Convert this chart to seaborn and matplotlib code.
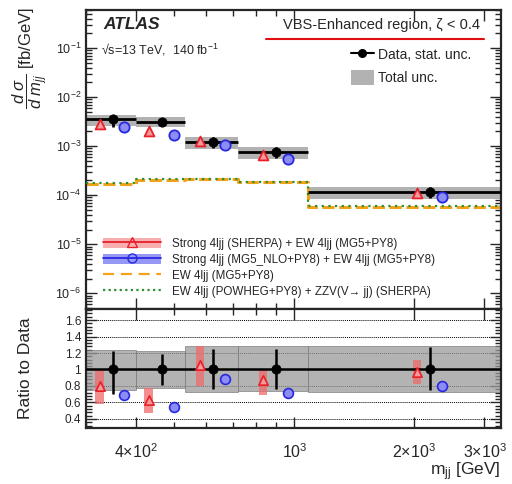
import numpy as np
import pandas as pd
import matplotlib
matplotlib.use("Agg")
import matplotlib.pyplot as plt
from matplotlib.patches import Patch
from matplotlib.lines import Line2D
from matplotlib.ticker import FixedLocator, FixedFormatter, NullFormatter, LogLocator, MultipleLocator, FuncFormatter
import seaborn as sns

# m_jj binning [GeV]
bin_edges = [300, 400, 530, 720, 1080, 3300]
bin_centres = [350, 465, 625, 900, 2190]

# measured d sigma / d m_jj [fb/GeV]
data_xsec = [3.51e-3, 3.19e-3, 1.21e-3, 7.55e-4, 1.15e-4]
stat_up = [0.22, 0.19, 0.25, 0.25, 0.27]
stat_down = [0.30, 0.19, 0.24, 0.24, 0.25]
total_hi = [1.24, 1.23, 1.28, 1.28, 1.29]
total_lo = [0.75, 0.77, 0.73, 0.74, 0.73]

# predictions relative to data
sherpa_ratio = [0.80, 0.63, 1.06, 0.87, 0.97]
sherpa_hi = [1.01, 0.78, 1.28, 1.01, 1.12]
sherpa_lo = [0.58, 0.47, 0.80, 0.69, 0.82]
mg5nlo_ratio = [0.69, 0.54, 0.89, 0.72, 0.80]

# EW-only predictions [fb/GeV]
ew_mg5 = [1.73e-4, 2.09e-4, 2.16e-4, 1.84e-4, 5.87e-5]
ew_powheg_zzv = [1.74e-4, 2.10e-4, 2.17e-4, 1.85e-4, 5.90e-5]

GRAY = "#b2b2b2"
RED = "#e8202a"
RED_FILL = "#f59a9a"
BLUE = "#2828e0"
BLUE_FILL = "#8c8cf5"
ORANGE = "#f2a31b"
GREEN = "#2f8f2f"

sns.set_style("ticks")
plt.rcParams["font.family"] = ["Liberation Sans", "DejaVu Sans"]
plt.rcParams["mathtext.fontset"] = "custom"
plt.rcParams["mathtext.rm"] = "Liberation Sans"
plt.rcParams["mathtext.it"] = "Liberation Sans:italic"
plt.rcParams["mathtext.bf"] = "Liberation Sans:bold"

data = np.array(data_xsec)
centres = np.array(bin_centres, dtype=float)
edges = np.array(bin_edges, dtype=float)
lo_edges, hi_edges = edges[:-1], edges[1:]
sherpa = np.array(sherpa_ratio)
mg5nlo = np.array(mg5nlo_ratio)
x_sherpa = centres * 0.927
x_mg5 = centres * 1.07

fig = plt.figure(figsize=(5.12, 4.84), dpi=100)
ax1 = fig.add_axes([0.168, 0.3626, 0.8105, 0.6167])
ax2 = fig.add_axes([0.168, 0.1157, 0.8105, 0.2469], sharex=ax1)

# ---------------- top panel ----------------
ax1.bar(lo_edges, data * (np.array(total_hi) - np.array(total_lo)), width=hi_edges - lo_edges,
        bottom=data * np.array(total_lo), align="edge", color=GRAY, lw=0, zorder=1)

ew = pd.DataFrame({"m": edges, "mg5": ew_mg5 + [ew_mg5[-1]], "pwg": ew_powheg_zzv + [ew_powheg_zzv[-1]]})
sns.lineplot(data=ew, x="m", y="mg5", drawstyle="steps-post", color=ORANGE, lw=2.2,
             linestyle=(0, (4, 1.5)), estimator=None, sort=False, ax=ax1, zorder=2)
sns.lineplot(data=ew, x="m", y="pwg", drawstyle="steps-post", color=GREEN, lw=1.6,
             linestyle=(0, (1, 2)), estimator=None, sort=False, ax=ax1, zorder=3)

ax1.errorbar(centres, data, xerr=[centres - lo_edges, hi_edges - centres],
             yerr=[data * np.array(stat_down), data * np.array(stat_up)],
             fmt="none", ecolor="k", elinewidth=2.0, capsize=0, zorder=4)
sns.scatterplot(x=centres, y=data, color="k", s=45, edgecolor="k", ax=ax1, zorder=6)
sns.scatterplot(x=x_sherpa, y=data * sherpa, marker="^", color=RED_FILL, edgecolor=RED,
                linewidth=1.3, s=50, ax=ax1, zorder=5)
sns.scatterplot(x=x_mg5, y=data * mg5nlo, marker="o", color=BLUE_FILL, edgecolor=BLUE,
                linewidth=1.3, s=55, ax=ax1, zorder=5)

ax1.set_xscale("log")
ax1.set_yscale("log")
ax1.set_xlim(300, 3300)
ax1.set_ylim(4.9e-7, 0.6)
ax1.set_xlabel("")
ax1.set_ylabel(r"$\dfrac{d\ \sigma}{d\ m_{jj}}$ [fb/GeV]", fontsize=12, ha="center", va="center")
ax1.yaxis.set_label_coords(-0.135, 0.84)
ax1.yaxis.set_major_locator(LogLocator(base=10, numticks=12))
ax1.yaxis.set_minor_locator(LogLocator(base=10, subs=np.arange(2, 10), numticks=12))
ax1.yaxis.set_minor_formatter(NullFormatter())
ax1.tick_params(axis="y", labelsize=9)
plt.setp(ax1.get_xticklabels(), visible=False)

ax1.text(0.041, 0.95, "ATLAS", transform=ax1.transAxes, fontsize=12.5, fontweight="bold",
         fontstyle="italic", ha="left", va="center")
ax1.text(0.036, 0.866, "√s=13 TeV,  140 fb$^{-1}$", transform=ax1.transAxes,
         fontsize=9, ha="left", va="center")
ax1.text(0.949, 0.95, "VBS-Enhanced region, ζ < 0.4", transform=ax1.transAxes,
         fontsize=10.5, ha="right", va="center")
ax1.plot([0.434, 0.958], [0.902, 0.902], transform=ax1.transAxes, color="#e01010", lw=1.5)

top_handles = [Line2D([], [], color="k", marker="o", ms=5.5, lw=1.5),
               Patch(facecolor=GRAY, edgecolor="none")]
leg1 = ax1.legend(top_handles, ["Data, stat. unc.", "Total unc."], loc="upper left",
                  bbox_to_anchor=(0.6386, 0.876), frameon=False, fontsize=10,
                  handlelength=1.65, handleheight=1.3, handletextpad=0.3,
                  labelspacing=0.55, borderpad=0, borderaxespad=0)
ax1.add_artist(leg1)

bot_handles = [
    (Patch(facecolor=RED_FILL, edgecolor="none", alpha=0.8),
     Line2D([], [], color=RED, lw=1.3, marker="^", ms=6.5, mfc="none", mec=RED)),
    (Patch(facecolor=BLUE_FILL, edgecolor="none", alpha=0.9),
     Line2D([], [], color=BLUE, lw=1.3, marker="o", ms=6.5, mfc="none", mec=BLUE)),
    Line2D([], [], color=ORANGE, lw=1.6, linestyle=(0, (5, 3))),
    Line2D([], [], color=GREEN, lw=1.6, linestyle=(0, (1, 1.5))),
]
bot_labels = [
    "Strong 4ljj (SHERPA) + EW 4ljj (MG5+PY8)",
    "Strong 4ljj (MG5_NLO+PY8) + EW 4ljj (MG5+PY8)",
    "EW 4ljj (MG5+PY8)",
    "EW 4ljj (POWHEG+PY8) + ZZV(V→ jj) (SHERPA)",
]
ax1.legend(bot_handles, bot_labels, loc="lower left", bbox_to_anchor=(0.041, 0.035),
           frameon=False, fontsize=8.4, handlelength=5.0, handleheight=1.0,
           handletextpad=0.9, labelspacing=0.33, borderpad=0, borderaxespad=0)

# ---------------- ratio panel ----------------
for g in [0.4, 0.6, 0.8, 1.2, 1.4, 1.6]:
    ax2.axhline(g, color="k", ls=(0, (1, 1)), lw=0.7, zorder=0)

ax2.bar(lo_edges, np.array(total_hi) - np.array(total_lo), width=hi_edges - lo_edges,
        bottom=total_lo, align="edge", color="#9a9a9a", alpha=0.75, edgecolor="#777777",
        lw=0.6, zorder=1)
f = 1.025
ax2.bar(x_sherpa / f, np.array(sherpa_hi) - np.array(sherpa_lo), width=x_sherpa * (f - 1 / f),
        bottom=sherpa_lo, align="edge", color="#f06a6a", alpha=0.75, lw=0, zorder=2)

ax2.axhline(1.0, color="k", lw=1.8, zorder=3)
ones = np.ones(len(centres))
ax2.errorbar(centres, ones, yerr=[stat_down, stat_up], fmt="none", ecolor="k",
             elinewidth=1.8, capsize=0, zorder=4)
sns.scatterplot(x=centres, y=ones, color="k", s=45, edgecolor="k", ax=ax2, zorder=6)
sns.scatterplot(x=x_sherpa, y=sherpa, marker="^", color=RED_FILL, edgecolor=RED,
                linewidth=1.2, s=45, ax=ax2, zorder=5)
sns.scatterplot(x=x_mg5, y=mg5nlo, marker="o", color=BLUE_FILL, edgecolor=BLUE,
                linewidth=1.2, s=50, ax=ax2, zorder=5)

ax2.set_ylim(0.29, 1.74)
ax2.yaxis.set_major_locator(FixedLocator([0.4, 0.6, 0.8, 1.0, 1.2, 1.4, 1.6]))
ax2.yaxis.set_minor_locator(MultipleLocator(0.04))
ax2.yaxis.set_major_formatter(FuncFormatter(lambda v, p: "%g" % round(v, 2)))
ax2.tick_params(axis="y", labelsize=8.5)
ax2.set_ylabel("Ratio to Data", fontsize=12.5)
ax2.yaxis.set_label_coords(-0.128, 0.5)

ax2.xaxis.set_major_locator(FixedLocator([400, 1000, 2000, 3000]))
ax2.xaxis.set_major_formatter(FixedFormatter([r"$4{\times}10^{2}$", r"$10^{3}$",
                                              r"$2{\times}10^{3}$", r"$3{\times}10^{3}$"]))
ax2.xaxis.set_minor_locator(FixedLocator([300, 500, 600, 700, 800, 900]))
ax2.xaxis.set_minor_formatter(NullFormatter())
ax2.tick_params(axis="x", labelsize=11.5, pad=10)
ax2.set_xlabel(r"m$_{\mathregular{jj}}$ [GeV]", fontsize=12.5, loc="right", labelpad=0)

for ax in (ax1, ax2):
    ax.tick_params(which="both", direction="in", top=True, right=True, width=1.0)
    ax.tick_params(which="major", length=8)
    ax.tick_params(which="minor", length=4)
    for s in ax.spines.values():
        s.set_linewidth(1.6)

fig.savefig("out.png", dpi=100)
